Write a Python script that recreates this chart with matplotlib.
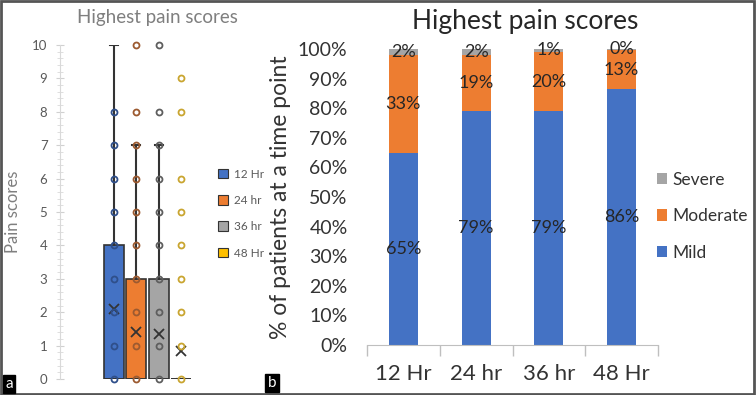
import matplotlib
matplotlib.use("Agg")
import matplotlib.pyplot as plt
from matplotlib.patches import Patch, Rectangle

plt.rcParams['font.family'] = ['Lato', 'DejaVu Sans']

# ---- panel a: box plot of highest pain scores ----
groups = ['12 Hr', '24 hr', '36 hr', '48 Hr']
box_q1 = [0, 0, 0, 0]
box_med = [0, 0, 0, 0]
box_q3 = [4, 3, 3, 0]
whisk_lo = [0, 0, 0, 0]
whisk_hi = [10, 7, 7, 0]
means = [2.1, 1.4, 1.35, 0.85]
points_12 = [0, 1, 2, 3, 4, 5, 6, 7, 8]
points_24 = [0, 1, 2, 3, 4, 5, 6, 7, 8, 10]
points_36 = [0, 1, 2, 3, 4, 5, 6, 7, 8, 10]
points_48 = [0, 1, 2, 3, 4, 5, 6, 8, 9]
box_colors = ['#4472C4', '#ED7D31', '#A5A5A5', '#FFC000']
dot_edges = ['#2F4F8A', '#9C5A30', '#5E5E5E', '#C9A530']

# ---- panel b: stacked percentages ----
times = ['12 Hr', '24 hr', '36 hr', '48 Hr']
mild = [65, 79, 79, 86.4]
moderate = [33, 19, 20, 13.3]
severe = [2, 2, 1, 0.3]

W, H = 756, 395
fig = plt.figure(figsize=(W / 100, H / 100), dpi=100)

# left axes
axa = fig.add_axes([60 / W, (H - 379) / H, 140 / W, 334 / H])
stats = []
for i in range(len(groups)):
    stats.append(dict(med=box_med[i], q1=box_q1[i], q3=box_q3[i],
                      whislo=whisk_lo[i], whishi=whisk_hi[i],
                      mean=means[i], fliers=[], label=groups[i]))
pos = [1, 2, 3, 4]
bp = axa.bxp(stats, positions=pos, widths=0.9, patch_artist=True,
             showmeans=True, showcaps=True,
             boxprops=dict(edgecolor='#333333', linewidth=1.2),
             medianprops=dict(color='#333333', linewidth=1.2),
             whiskerprops=dict(color='#333333', linewidth=1.5),
             capprops=dict(color='#333333', linewidth=1.5),
             meanprops=dict(marker='x', markeredgecolor='#333333',
                            markersize=7, markeredgewidth=1.3))
for patch, c in zip(bp['boxes'], box_colors):
    patch.set_facecolor(c)
for cap in bp['caps']:
    x0, x1 = cap.get_xdata()
    xm = (x0 + x1) / 2
    cap.set_xdata([xm - 0.18, xm + 0.18])

all_points = [points_12, points_24, points_36, points_48]
for p, pts, ec in zip(pos, all_points, dot_edges):
    axa.plot([p] * len(pts), pts, 'o', ms=4.3, mfc='none', mec=ec, mew=1.3,
             zorder=5, clip_on=False)

axa.set_xlim(-1.42, 4.85)
axa.set_ylim(0, 10)
axa.set_yticks(range(0, 11))
axa.set_yticks([i / 5 for i in range(51)], minor=True)
axa.tick_params(axis='y', which='major', direction='inout', length=6,
                color='#d0d0d0', labelcolor='#595959', labelsize=9.5, pad=6)
axa.tick_params(axis='y', which='minor', direction='inout', length=4,
                color='#d9d9d9')
axa.set_xticks([])
for s in ['top', 'right', 'bottom']:
    axa.spines[s].set_visible(False)
axa.spines['left'].set_color('#d9d9d9')
axa.set_ylabel('Pain scores', fontsize=12, color='#7f7f7f')
axa.yaxis.set_label_coords(-0.28, 0.5)

leg_a = axa.legend([Patch(facecolor=c, edgecolor='#333333', lw=0.8) for c in box_colors],
                   groups, loc='upper left', bbox_to_anchor=(207 / W, 1 - 158 / H),
                   bbox_transform=fig.transFigure, frameon=False, fontsize=8.5,
                   handlelength=0.9, handleheight=0.9, labelspacing=1.3,
                   handletextpad=0.5, labelcolor='#595959')

fig.text(157 / W, 1 - 18 / H, 'Highest pain scores', ha='center', va='center',
         fontsize=13.5, color='#7f7f7f')

# right axes
axb = fig.add_axes([367 / W, (H - 345) / H, 291 / W, 296 / H])
x = list(range(len(times)))
bw = 0.4
b1 = axb.bar(x, mild, bw, color='#4472C4', label='Mild')
bot2 = mild
b2 = axb.bar(x, moderate, bw, bottom=bot2, color='#ED7D31', label='Moderate')
bot3 = [m + o for m, o in zip(mild, moderate)]
b3 = axb.bar(x, severe, bw, bottom=bot3, color='#A5A5A5', label='Severe')

for i in x:
    axb.text(i, mild[i] / 2, f'{mild[i]:.0f}%', ha='center', va='center',
             fontsize=13, color='#262626')
    axb.text(i, mild[i] + moderate[i] / 2, f'{moderate[i]:.0f}%', ha='center',
             va='center', fontsize=13, color='#262626')
    axb.text(i, bot3[i] + severe[i] / 2, f'{severe[i]:.0f}%', ha='center',
             va='center', fontsize=13, color='#262626')

axb.set_xlim(-0.5, 3.5)
axb.set_ylim(0, 100)
axb.set_yticks(range(0, 101, 10))
axb.set_yticklabels([f'{v}%' for v in range(0, 101, 10)])
axb.tick_params(axis='y', length=0, pad=14, labelsize=14, labelcolor='#333333')
axb.set_xticks(x)
axb.set_xticklabels(times)
axb.set_xticks([i - 0.5 for i in range(len(times) + 1)], minor=True)
axb.tick_params(axis='x', which='major', length=0, pad=14, labelsize=16,
                labelcolor='#333333')
axb.tick_params(axis='x', which='minor', length=8, color='#bfbfbf', width=1)
for s in ['top', 'right', 'left']:
    axb.spines[s].set_visible(False)
axb.spines['bottom'].set_color('#bfbfbf')
axb.set_ylabel('% of patients at a time point', fontsize=16.5, color='#333333')
axb.yaxis.set_label_coords(-0.26, 0.5)

axb.legend([b3, b2, b1], ['Severe', 'Moderate', 'Mild'], loc='upper left',
           bbox_to_anchor=(641 / W, 1 - 156 / H), bbox_transform=fig.transFigure,
           frameon=False, fontsize=12.5, handlelength=0.6, handleheight=0.6,
           labelspacing=1.18, handletextpad=0.3, labelcolor='#333333')

fig.text(525 / W, 1 - 22 / H, 'Highest pain scores', ha='center', va='center',
         fontsize=19, color='#262626')

# panel letters and frame
fig.text(9 / W, 1 - 384 / H, 'a', ha='center', va='center', fontsize=11,
         color='white', bbox=dict(boxstyle='square,pad=0.15', fc='black', ec='black'))
fig.text(272 / W, 1 - 383 / H, 'b', ha='center', va='center', fontsize=11,
         color='white', bbox=dict(boxstyle='square,pad=0.15', fc='black', ec='black'))
fig.patches.append(Rectangle((0.001, 0.002), 0.997, 0.996, transform=fig.transFigure,
                             fill=False, edgecolor='#555555', lw=2))

fig.savefig('out.png', dpi=100)
